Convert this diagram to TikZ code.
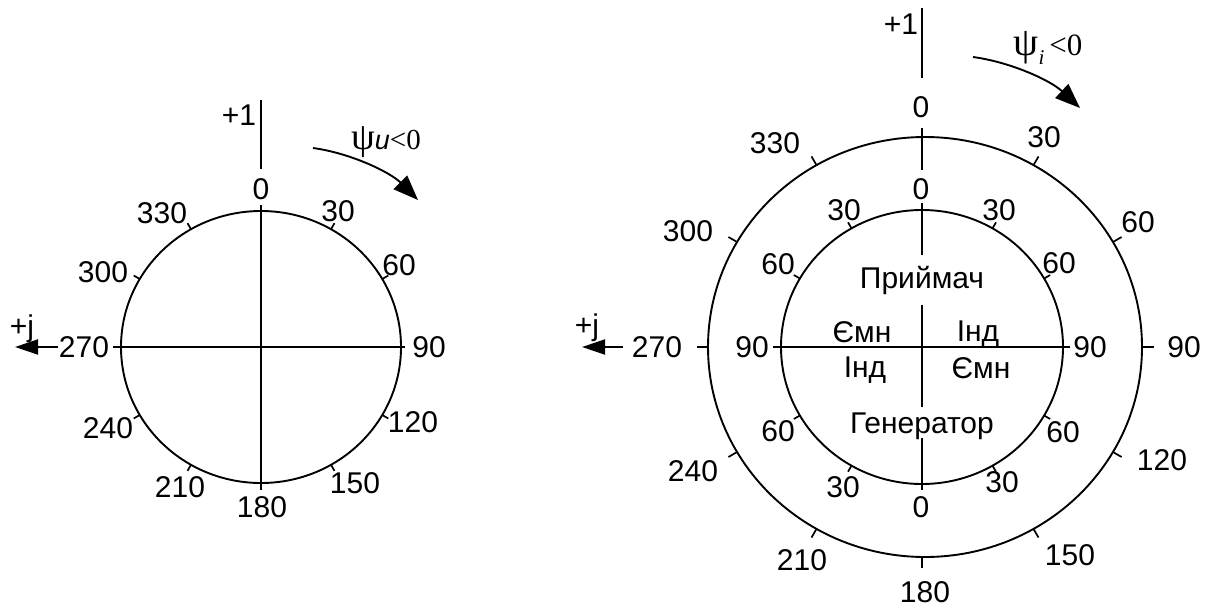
\documentclass[tikz,border=0pt]{standalone}
\usepackage{fontspec}
\setmainfont{Liberation Sans}
\newfontfamily\grk{Liberation Serif}
\usetikzlibrary{arrows.meta}
\begin{document}
\begin{tikzpicture}[x=1pt,y=-1pt,
  ln/.style={line width=1.9pt},
  tk/.style={line width=1.7pt},
  lbl/.style={inner sep=0pt, text height=21.5pt, text depth=0pt, font=\fontsize{30}{31}\selectfont},
  psitxt/.style={inner sep=0pt, font=\fontsize{30}{32}\selectfont},
  tri/.style={-{Triangle[length=23pt,width=15pt]}},
  ctri/.style={-{Triangle[length=25pt,width=19pt]}}]
\useasboundingbox (0,0) rectangle (1206,608);

% ---------------- left diagram ----------------
\coordinate (L) at (261,347);
\draw[ln] (L) ellipse [x radius=140pt, y radius=136pt];
\foreach \a in {30,60,120,150,210,240,300,330}
  \draw[tk] ({261+140*sin(\a)},{347-136*cos(\a)}) -- ++({7*sin(\a)},{-7*cos(\a)});
\coordinate (Lh1) at (113,347);
\coordinate (Lh2) at (405,347);
\coordinate (Lv1) at (261,205);
\coordinate (Lv2) at (261,490);
\coordinate (Lt1) at (261,100);
\coordinate (Lt2) at (261,169);
\draw[ln] (Lh1) -- (Lh2);
\draw[ln] (Lv1) -- (Lv2);
\draw[ln] (Lt1) -- (Lt2);
\coordinate (Lj1) at (58,347);
\coordinate (Lj2) at (15,347);
\draw[ln,tri] (Lj1) -- (Lj2);
\node[lbl] (Lpj) at (22,326) {+j};
\node[lbl] (Lp1) at (239,115) {+1};

\node[lbl] (l0) at (261,189) {0};
\node[lbl] (l30) at (338,211) {30};
\node[lbl] (l60) at (399,265) {60};
\node[lbl] (l90) at (429,347) {90};
\node[lbl] (l120) at (413,422) {120};
\node[lbl] (l150) at (355,483) {150};
\node[lbl] (l180) at (262,507) {180};
\node[lbl] (l210) at (180,487) {210};
\node[lbl] (l240) at (108,428) {240};
\node[lbl] (l270) at (84,347) {270};
\node[lbl] (l300) at (103,272) {300};
\node[lbl] (l330) at (162,213) {330};

\coordinate (La1) at (313,148);
\coordinate (La2) at (418,200);
\draw[ln,ctri] (La1) .. controls (350,153) and (390,172) .. (La2);
\node[psitxt] (Lpsi) at (386,142) {{\grk\fontsize{38}{38}\selectfont ψ}{\itshape\fontsize{27}{28}\selectfont u}{\grk\fontsize{29}{30}\selectfont <0}};

% ---------------- right diagram ----------------
\coordinate (R) at (922,347);
\coordinate (Ro) at (925,347);
\draw[ln] (R) ellipse [x radius=141pt, y radius=137pt];
\draw[ln] (Ro) ellipse [x radius=217pt, y radius=210pt];
\foreach \a in {30,60,120,150,210,240,300,330}{
  \draw[tk] ({922+141*sin(\a)},{347-137*cos(\a)}) -- ++({7*sin(\a)},{-7*cos(\a)});
  \draw[tk] ({925+217*sin(\a)},{347-210*cos(\a)}) -- ++({10*sin(\a)},{-10*cos(\a)});
}
\coordinate (Rh1) at (773,347);
\coordinate (Rh2) at (1070,347);
\draw[ln] (Rh1) -- (Rh2);
\draw[tk] (1142,347) -- (1154,347);
\draw[tk] (708,347) -- (697,347);
\draw[tk] (922,557) -- (922,568);
\draw[ln] (922,8) -- (922,78);
\draw[ln] (922,128) -- (922,170);
\draw[ln] (922,203) -- (922,255);
\draw[ln] (922,305) -- (922,407);
\draw[ln] (922,438) -- (922,490);

\coordinate (Rj1) at (623,347);
\coordinate (Rj2) at (582,347);
\draw[ln,tri] (Rj1) -- (Rj2);
\node[lbl] (Rpj) at (587,325) {+j};
\node[lbl] (Rp1) at (901,24) {+1};

% outer labels
\node[lbl] (o0) at (921,107) {0};
\node[lbl] (o30) at (1044,137) {30};
\node[lbl] (o60) at (1138,222) {60};
\node[lbl] (o90) at (1184,347) {90};
\node[lbl] (o120) at (1162,460) {120};
\node[lbl] (o150) at (1070,555) {150};
\node[lbl] (o180) at (925,592) {180};
\node[lbl] (o210) at (802,560) {210};
\node[lbl] (o240) at (693,471) {240};
\node[lbl] (o270) at (657,347) {270};
\node[lbl] (o300) at (688,231) {300};
\node[lbl] (o330) at (775,143) {330};

% inner labels
\node[lbl] (i0t) at (921,189) {0};
\node[lbl] (i30tl) at (844,210) {30};
\node[lbl] (i30tr) at (999,210) {30};
\node[lbl] (i60tl) at (778,264) {60};
\node[lbl] (i60tr) at (1059,263) {60};
\node[lbl] (i90l) at (752,347) {90};
\node[lbl] (i90r) at (1090,347) {90};
\node[lbl] (i60bl) at (778,431) {60};
\node[lbl] (i60br) at (1063,432) {60};
\node[lbl] (i30bl) at (843,487) {30};
\node[lbl] (i30br) at (1002,482) {30};
\node[lbl] (i0b) at (921,507) {0};

\node[lbl] (pr) at (922,278) {Приймач};
\node[lbl] (em1) at (862,332) {Ємн};
\node[lbl] (ind1) at (978,331) {Інд};
\node[lbl] (ind2) at (865,367) {Інд};
\node[lbl] (em2) at (981,368) {Ємн};
\node[lbl] (gen) at (922,423) {Генератор};

\coordinate (Ra1) at (973,57);
\coordinate (Ra2) at (1080,108);
\draw[ln,ctri] (Ra1) .. controls (1010,62) and (1050,80) .. (Ra2);
\node[psitxt] (Rpsi) at (1048,48) {{\grk\fontsize{40}{40}\selectfont ψ}{\grk\itshape\fontsize{21}{21}\selectfont\raisebox{-9pt}{i}}\,{\grk\fontsize{31}{32}\selectfont <0}};
\end{tikzpicture}
\end{document}
